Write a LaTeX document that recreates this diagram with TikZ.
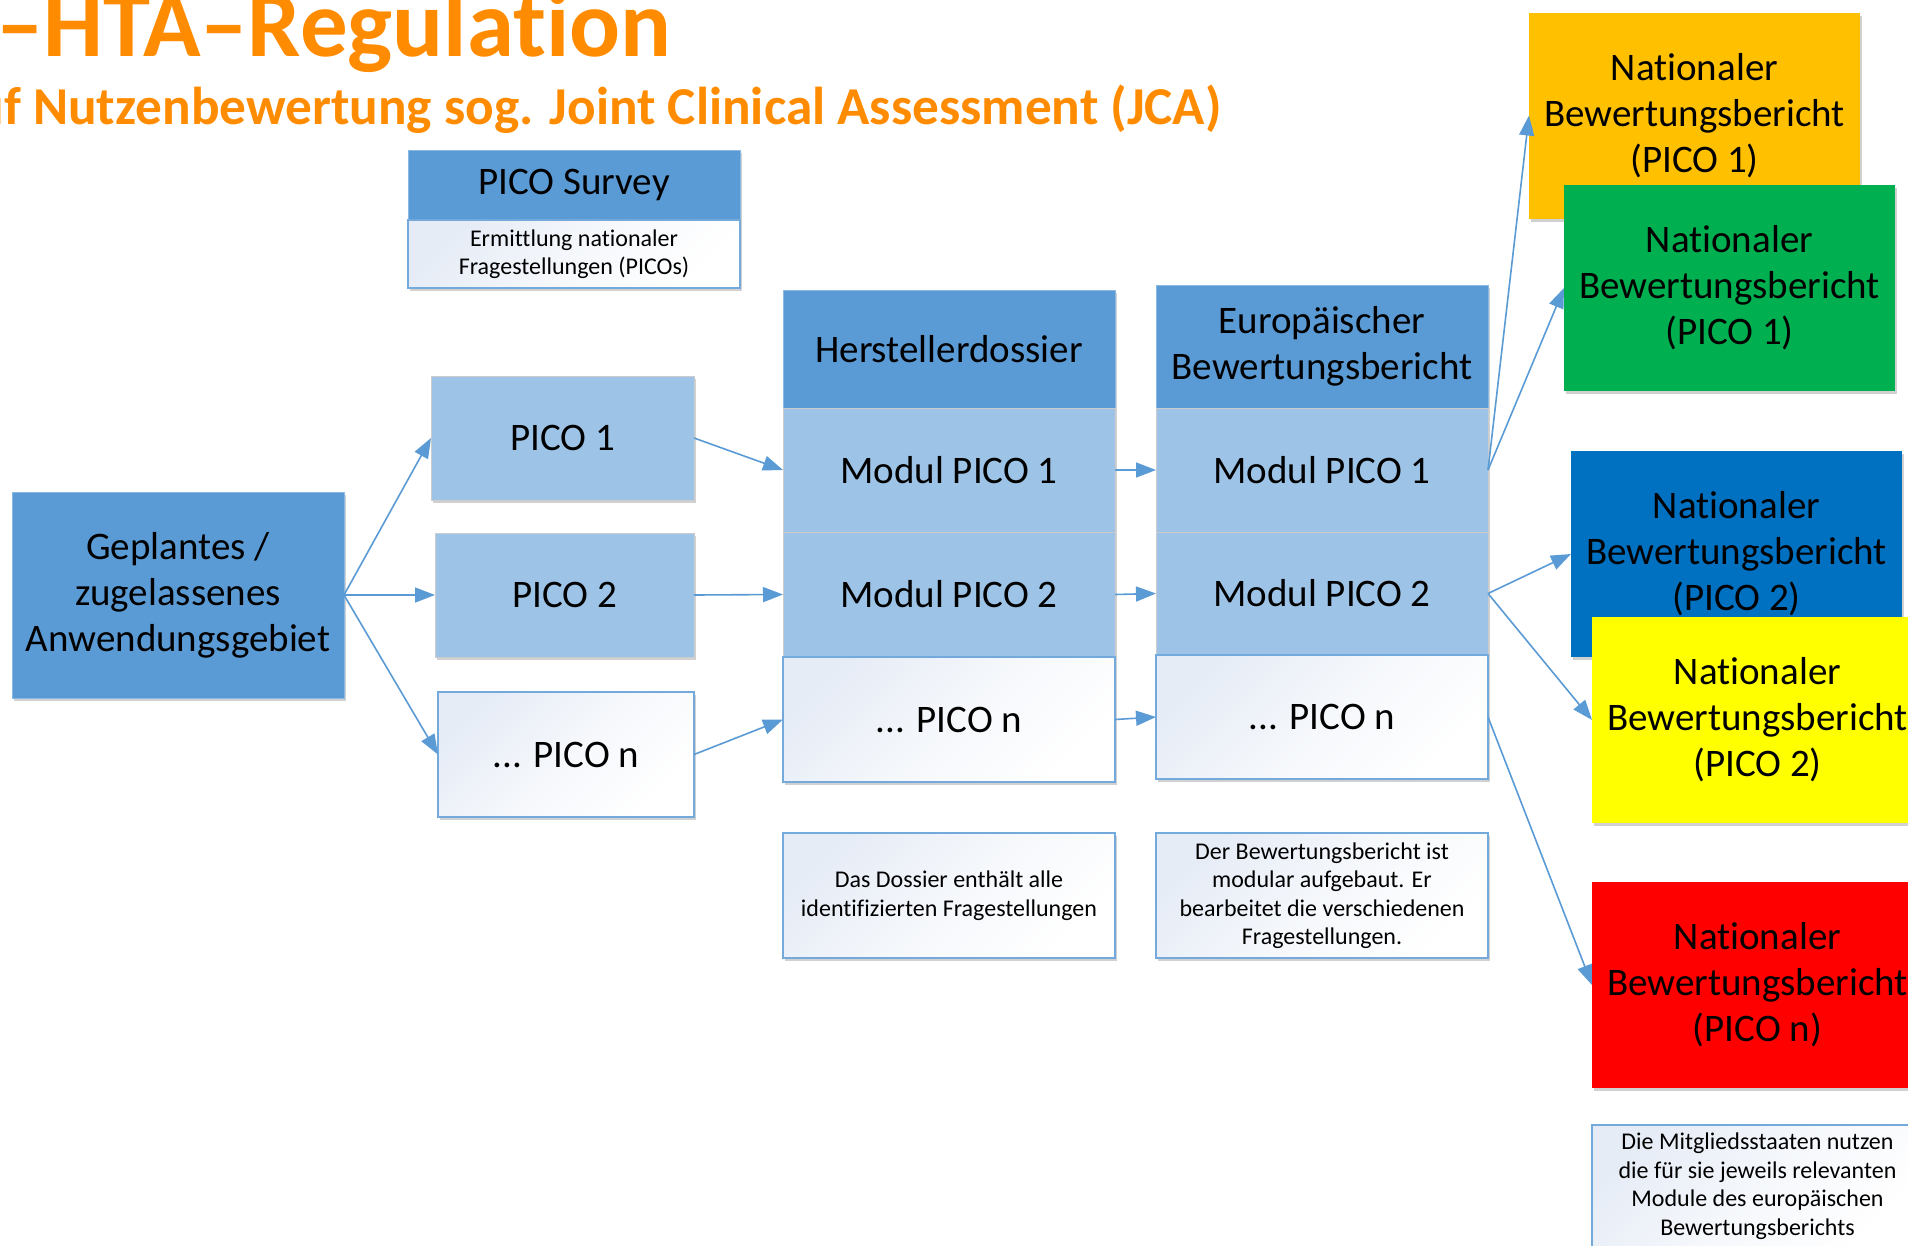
\documentclass[tikz,border=0pt]{standalone}
\usepackage{fontspec}
\setmainfont{Carlito}[Ligatures=NoCommon]
\usetikzlibrary{arrows.meta,shadows}
\definecolor{hdrblue}{HTML}{5B9BD5}
\definecolor{ltblue}{HTML}{9DC3E6}
\definecolor{wtblue}{HTML}{E6ECF6}
\definecolor{titleor}{HTML}{FF8C00}
\definecolor{cOrange}{HTML}{FFC000}
\definecolor{cGreen}{HTML}{00B050}
\definecolor{cBlue}{HTML}{0070C0}
\definecolor{cYellow}{HTML}{FFFF00}
\definecolor{cRed}{HTML}{FF0000}
\begin{document}
\begin{tikzpicture}[x=1pt,y=-1pt,
  box/.style={rectangle, inner sep=0pt, outer sep=0pt, align=center, text=black},
  bigtxt/.style={font=\fontsize{39}{46}\selectfont},
  smalltxt/.style={font=\fontsize{24}{28.5}\selectfont},
  shad/.style={drop shadow={shadow xshift=2pt,shadow yshift=-3pt,opacity=0.18,fill=black}},
  hdr/.style={box,bigtxt,fill=hdrblue,draw=hdrblue!70!white,line width=1pt,shad},
  cell/.style={box,bigtxt,fill=ltblue,draw=black!20,line width=1pt,shad},
  wcell/.style={box,top color=wtblue,bottom color=white,middle color=white!60!wtblue,shading angle=45,draw=hdrblue!85!white,line width=1.5pt,shad},
  nat/.style={box,bigtxt,draw=none,shad,minimum width=331pt,minimum height=206pt},
  arr/.style={draw=hdrblue,line width=1.6pt,-{Triangle[length=20pt,width=15pt]}},
  ttl/.style={anchor=base west,inner sep=0pt,text=titleor}
]
\fill[white] (0,0) rectangle (1908,1245);
\useasboundingbox (0,0) rectangle (1908,1245);

% titles
\node[ttl,font=\fontsize{95}{95}\selectfont\bfseries] (t1) at (-4,56) {–HTA–Regulation};
\node[ttl,font=\fontsize{53.3}{53.3}\selectfont\bfseries] (t2) at (33,124) {\llap{uf }Nutzenbewertung sog. Joint Clinical Assessment (JCA)};

% PICO survey
\node[hdr,minimum width=332pt,minimum height=70pt] (svh) at (574,185) {PICO Survey};
\node[wcell,smalltxt,minimum width=332pt,minimum height=68pt] (svs) at (574,254) {Ermittlung nationaler\\Fragestellungen (PICOs)};

% left part
\node[hdr,minimum width=332pt,minimum height=206pt] (geo) at (178,595) {Geplantes /\\zugelassenes\\Anwendungsgebiet};
\node[cell,minimum width=263pt,minimum height=124pt] (p1) at (562.5,438) {PICO 1};
\node[cell,minimum width=259pt,minimum height=124pt] (p2) at (564.5,595) {PICO 2};
\node[wcell,bigtxt,minimum width=256pt,minimum height=125pt] (pn) at (566,754.5) {... PICO n};

% Herstellerdossier column
\node[hdr,minimum width=332pt,minimum height=118pt] (hh) at (949,349) {Herstellerdossier};
\node[cell,minimum width=332pt,minimum height=124pt] (h1) at (949,470) {Modul PICO 1};
\node[cell,minimum width=332pt,minimum height=125pt] (h2) at (949,594.5) {Modul PICO 2};
\node[wcell,bigtxt,minimum width=332pt,minimum height=125pt] (hn) at (949,719.5) {... PICO n};

% Europaeischer column
\node[hdr,minimum width=332pt,minimum height=123pt] (eh) at (1322,346.5) {Europäischer\\Bewertungsbericht};
\node[cell,minimum width=332pt,minimum height=124pt] (e1) at (1322,470) {Modul PICO 1};
\node[cell,minimum width=332pt,minimum height=123pt] (e2) at (1322,593.5) {Modul PICO 2};
\node[wcell,bigtxt,minimum width=332pt,minimum height=124pt] (en) at (1322,717) {... PICO n};

% notes
\node[wcell,smalltxt,minimum width=332pt,minimum height=125pt] (hnote) at (949,895.5) {Das Dossier enthält alle\\identifizierten Fragestellungen};
\node[wcell,smalltxt,minimum width=332pt,minimum height=125pt] (enote) at (1322,895.5) {Der Bewertungsbericht ist\\modular aufgebaut. Er\\bearbeitet die verschiedenen\\Fragestellungen.};

% national reports
\node[nat,fill=cOrange] (n1a) at (1694.5,115.5) {Nationaler\\Bewertungsbericht\\(PICO 1)};
\node[nat,fill=cGreen] (n1b) at (1729.5,288) {Nationaler\\Bewertungsbericht\\(PICO 1)};
\node[nat,fill=cBlue] (n2a) at (1736.5,554) {Nationaler\\Bewertungsbericht\\(PICO 2)};
\node[nat,fill=cYellow] (n2b) at (1757.5,720) {Nationaler\\Bewertungsbericht\\(PICO 2)};
\node[nat,fill=cRed] (nn) at (1757.5,985) {Nationaler\\Bewertungsbericht\\(PICO n)};
\node[wcell,smalltxt,minimum width=331pt,minimum height=122pt] (mnote) at (1757.5,1186) {Die Mitgliedsstaaten nutzen\\die für sie jeweils relevanten\\Module des europäischen\\Bewertungsberichts};

% connectors
\draw[arr] (geo.east) -- (p1.west);
\draw[arr] (geo.east) -- (p2.west);
\draw[arr] (geo.east) -- (pn.west);
\draw[arr] (p1.east) -- (h1.west);
\draw[arr] (p2.east) -- (h2.west);
\draw[arr] (pn.east) -- (hn.west);
\draw[arr] (h1.east) -- (e1.west);
\draw[arr] (h2.east) -- (e2.west);
\draw[arr] (hn.east) -- (en.west);
\draw[arr] (e1.east) -- (n1a.west);
\draw[arr] (e1.east) -- (n1b.west);
\draw[arr] (e2.east) -- (n2a.west);
\draw[arr] (e2.east) -- (n2b.west);
\draw[arr] (en.east) -- (nn.west);
\end{tikzpicture}
\end{document}
